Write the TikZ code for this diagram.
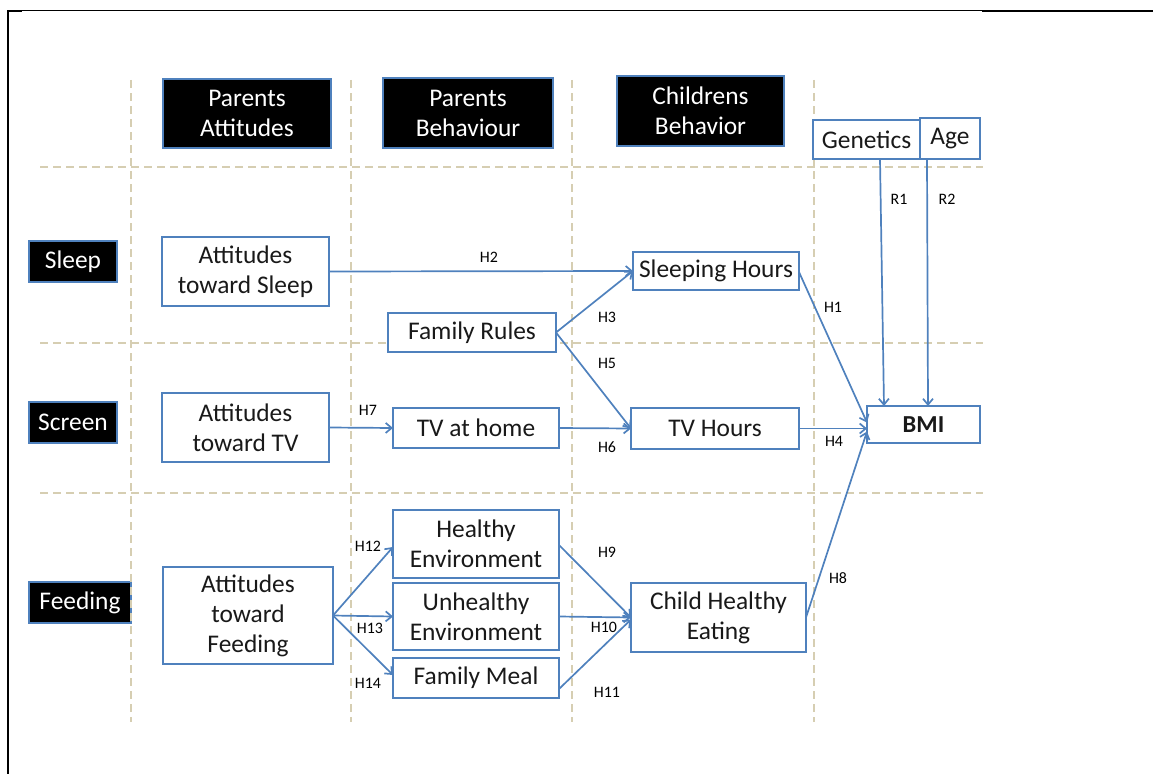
\documentclass[tikz,border=0pt]{standalone}
\usepackage{fontspec}
\setmainfont{Carlito}
\usetikzlibrary{arrows.meta,calc}
\definecolor{officeblue}{RGB}{79,129,189}
\definecolor{gridtan}{RGB}{214,206,178}
\begin{document}
\begin{tikzpicture}[x=1bp,y=-1bp,
  box/.style={draw=officeblue, line width=1.6bp, fill=white, inner sep=0pt, outer sep=0pt,
    align=center, font=\fontsize{25.5}{30}\selectfont, text=black!90},
  headbox/.style={box, fill=black, text=white},
  gridline/.style={draw=gridtan, line width=2bp, dash pattern=on 8bp off 5bp},
  link/.style={draw=officeblue, line width=1.7bp, -{Straight Barb[length=6bp,width=10bp]}},
  lbl/.style={font=\fontsize{16}{18}\selectfont, inner sep=0pt, text=black},
  frame/.style={draw=black, line cap=rect}
]
\useasboundingbox (0,0) rectangle (1153,774);

% page frame
\draw[frame, line width=2bp] (8,774) -- (8,11) -- (21,11);
\draw[frame, line width=1bp] (8,11) -- (983,11);
\draw[frame, line width=2.2bp] (983,11.3) -- (1153,11.3);

% row label that sits under the first column rule
\node[headbox, minimum width=102bp, minimum height=41bp] (fe) at (80,602.5) {Feeding};

% column and row rules
\foreach \gx in {131,351,572,814}
  \draw[gridline] (\gx,80) -- (\gx,722);
\foreach \gy in {167,343,493}
  \draw[gridline] (40,\gy) -- (983,\gy);

% column headers
\node[headbox, minimum width=168bp, minimum height=69bp] (pa) at (247,113.5) {Parents\\Attitudes};
\node[headbox, minimum width=170bp, minimum height=70bp] (pb) at (468,113) {Parents\\Behaviour};
\node[headbox, minimum width=167bp, minimum height=70bp] (cb) at (700.5,111) {Childrens\\Behavior};

% row labels
\node[headbox, minimum width=88bp, minimum height=41bp] (sl) at (73,261.5) {Sleep};
\node[headbox, minimum width=88bp, minimum height=41bp] (sc) at (73,422.5) {Screen};

% covariates
\node[box, minimum width=107bp, minimum height=39bp] (gen) at (866.5,139.5) {Genetics};
\node[box, minimum width=60bp, minimum height=41bp] (age) at (950,138.5) {Age};

% model boxes
\node[box, minimum width=167bp, minimum height=69bp] (ats) at (245.5,271.5) {Attitudes\\toward Sleep};
\node[box, minimum width=167bp, minimum height=69bp] (att) at (245.5,427.5) {Attitudes\\toward TV};
\node[box, minimum width=170bp, minimum height=97bp] (atf) at (248,615.5) {Attitudes\\toward\\Feeding};
\node[box, minimum width=168bp, minimum height=39bp] (fr) at (472,332.5) {Family Rules};
\node[box, minimum width=166bp, minimum height=40bp] (tah) at (476,428) {TV at home};
\node[box, minimum width=166bp, minimum height=68bp] (he) at (476,544) {Healthy\\Environment};
\node[box, minimum width=166bp, minimum height=67bp] (ue) at (476,616.5) {Unhealthy\\Environment};
\node[box, minimum width=166bp, minimum height=40bp] (fm) at (476,678) {Family Meal};
\node[box, minimum width=166bp, minimum height=38bp] (sh) at (716,271) {Sleeping Hours};
\node[box, minimum width=168bp, minimum height=41bp] (tvh) at (715,428.5) {TV Hours};
\node[box, minimum width=175bp, minimum height=69bp] (che) at (718.5,617.5) {Child Healthy\\Eating};
\node[box, minimum width=113bp, minimum height=37bp, font=\fontsize{24.5}{30}\selectfont\bfseries] (bmi) at (923.5,424.5) {BMI};

% paths
\draw[link] (ats.east) -- (sh.west);
\draw[link] (fr.east) -- (sh.west);
\draw[link] (fr.east) -- (tvh.west);
\draw[link] (att.east) -- (tah.west);
\draw[link] (tah.east) -- (tvh.west);
\draw[link] ([yshift=-1bp]sh.east) -- ([yshift=2bp]bmi.west);
\draw[link] (tvh.east) -- (tvh.east -| bmi.west);
\draw[link] (che.east) -- ([yshift=-7bp]bmi.west);
\draw[link] ([xshift=13.5bp]gen.south) -- ([xshift=-39.5bp]bmi.north);
\draw[link] ([xshift=-23bp]age.south) -- ([xshift=4.5bp]bmi.north);
\draw[link] (atf.east) -- ([yshift=-3bp]he.west);
\draw[link] (atf.east) -- (ue.west);
\draw[link] (atf.east) -- ([yshift=3bp]fm.west);
\draw[link] ([yshift=-1bp]he.east) -- (che.west);
\draw[link] (ue.east) -- (che.west);
\draw[link] ([yshift=-11bp]fm.east) -- ([yshift=-2bp]che.west);

% path labels
\node[lbl] (h2) at (489,257) {H2};
\node[lbl] (h3) at (607,317) {H3};
\node[lbl] (h5) at (607,363) {H5};
\node[lbl] (h7) at (368,410) {H7};
\node[lbl] (h6) at (607,447) {H6};
\node[lbl] (h1) at (833,307) {H1};
\node[lbl] (h4) at (834,441) {H4};
\node[lbl] (r1) at (899,199) {R1};
\node[lbl] (r2) at (947,199) {R2};
\node[lbl] (h12) at (368,546) {H12};
\node[lbl] (h13) at (370,628) {H13};
\node[lbl] (h14) at (368,683) {H14};
\node[lbl] (h9) at (607,552) {H9};
\node[lbl] (h10) at (604,627) {H10};
\node[lbl] (h11) at (607,692) {H11};
\node[lbl] (h8) at (838,578) {H8};
\end{tikzpicture}
\end{document}
